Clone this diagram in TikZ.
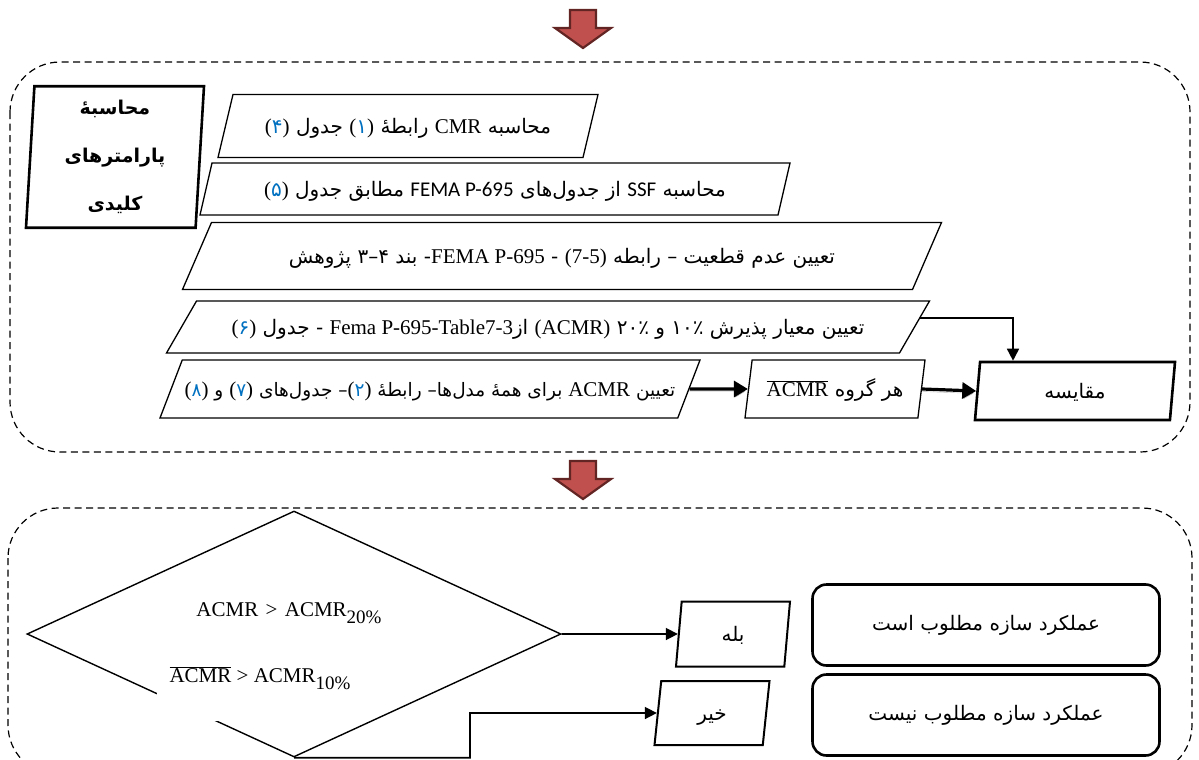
\documentclass[tikz,border=0pt]{standalone}
\usepackage{fontspec}
\setmainfont{Liberation Serif}
\newfontfamily\farsi[Script=Arabic]{DejaVu Sans}
\newfontfamily\enfont{Liberation Serif}
\newfontfamily\calfont{Carlito}
\TeXXeTstate=1
\usetikzlibrary{shapes.geometric}
\usetikzlibrary{arrows.meta}
\usetikzlibrary{positioning}
\usetikzlibrary{calc}
\definecolor{numblue}{RGB}{0,112,192}
\definecolor{arrowfill}{RGB}{192,80,77}
\definecolor{arrowline}{RGB}{99,37,35}

\newcommand{\rtl}[1]{\beginR#1\endR}
\newcommand{\ltr}[1]{\beginL{\enfont\fontsize{21}{24}\selectfont#1}\endL{}}
\newcommand{\bnum}[1]{\beginL{\enfont\fontsize{21}{24}\selectfont(}\textcolor{numblue}{#1}{\enfont\fontsize{21}{24}\selectfont)}\endL{}}
\newcommand{\lowsub}[1]{\raisebox{-7pt}{\fontsize{19}{19}\selectfont#1}}

\tikzset{
  frame/.style={dash pattern=on 7pt off 4.5pt, line width=1.2pt, rounded corners=50pt},
  io/.style={trapezium, draw, fill=white, line width=1.3pt, trapezium stretches body,
    inner xsep=0pt, inner ysep=0pt, font=\farsi\fontsize{20}{24}\selectfont},
  keybox/.style={trapezium, draw, fill=white, line width=2.6pt, trapezium stretches body,
    trapezium left angle=86.6, trapezium right angle=93.4, minimum width=178pt,
    inner xsep=0pt, inner ysep=14pt, align=center,
    font=\farsi\bfseries\fontsize{19}{48}\selectfont},
  result/.style={draw, rounded corners=14pt, line width=2.6pt, minimum width=347pt,
    minimum height=81pt, font=\farsi\fontsize{20}{24}\selectfont},
  arr/.style={line width=1.6pt, -{Triangle[length=12pt,width=12pt]}},
  bigarr/.style={line width=3.2pt, -{Triangle[length=14pt,width=16pt]},
    preaction={draw=gray!55, transform canvas={yshift=-2.5pt}}},
  downarrow/.pic={
    \filldraw[fill=arrowfill, draw=arrowline, line width=2.2pt]
      (-13,-18) -- (13,-18) -- (13,0) -- (28,0) -- (0,20) -- (-28,0) -- (-13,0) -- cycle;
  }
}

\begin{document}
\begin{tikzpicture}[x=1pt,y=-1pt]
\useasboundingbox (0,0) rectangle (1199,760);

% dashed frames and block arrows
\draw[frame] (10,62) rectangle (1190,452);
\draw[frame] (8,508) rectangle (1192,775);
\pic at (583,28) {downarrow};
\pic at (583,479) {downarrow};

% key parameters
\node[keybox] (key) at (115,157) {محاسبهٔ\\پارامترهای\\کلیدی};

\node[io, trapezium left angle=76.6, trapezium right angle=103.4, minimum width=380pt,
  text height=38.5pt, text depth=24.5pt] (cmr) at (408,126)
  {\rtl{محاسبه \ltr{CMR} رابطهٔ \bnum{۱} جدول \bnum{۴}}};
\node[io, trapezium left angle=77, trapezium right angle=103, minimum width=590pt,
  text height=33pt, text depth=19pt] (ssf) at (495,189)
  {\rtl{محاسبه \ltr{\calfont SSF} از جدول^^^^200cهای \ltr{\calfont FEMA P-695} مطابق جدول \bnum{۵}}};
\node[io, trapezium left angle=66.6, trapezium right angle=113.4, minimum width=759pt,
  text height=40.5pt, text depth=26.5pt] (unc) at (562,256)
  {\rtl{تعیین عدم قطعیت – رابطه \ltr{(7-5)} - \ltr{FEMA P-695}- بند ۴–۳ پژوهش}};
\node[io, trapezium left angle=60, trapezium right angle=120, minimum width=763pt,
  text height=33pt, text depth=19pt] (acc) at (548,327)
  {\rtl{تعیین معیار پذیرش ۱۰٪ و ۲۰٪ \ltr{(ACMR)} از\ltr{Fema P-695-Table7-3} - جدول \bnum{۶}}};
\node[io, trapezium left angle=69, trapezium right angle=111, minimum width=540pt,
  text height=36pt, text depth=22pt, font=\farsi\fontsize{18.5}{22}\selectfont] (acmr) at (430,389)
  {\rtl{تعیین \ltr{ACMR} برای همهٔ مدل^^^^200cها– رابطهٔ \bnum{۲}– جدول^^^^200cهای \bnum{۷} و \bnum{۸}}};
\node[io, trapezium left angle=83, trapezium right angle=97, minimum width=180pt,
  text height=36pt, text depth=22pt] (grp) at (835,389)
  {\rtl{هر گروه \ltr{$\overline{\hbox{ACMR}}$}}};
\node[io, line width=2.6pt, trapezium left angle=85, trapezium right angle=95, minimum width=200pt,
  text height=36pt, text depth=22pt] (cmp) at (1075,391) {مقایسه};

\draw[arr] ($(acc.top right corner)!0.33!(acc.bottom right corner)$) -| ([xshift=-62pt]cmp.north);
\draw[bigarr] (acmr.east) -- (grp.west);
\draw[bigarr] (grp.east) -- (cmp.west);

% decision
\node[draw, diamond, line width=1.4pt, minimum width=534pt, minimum height=246pt, inner sep=0pt] (test) at (294,634) {};
\node[font=\fontsize{21}{24}\selectfont] (cond1) at (289,613) {ACMR\hspace{0.35em}>\hspace{0.35em}ACMR\lowsub{20\%}};
\node[fill=white, minimum width=206pt, minimum height=62pt, inner sep=0pt, text depth=30pt,
  font=\fontsize{21}{24}\selectfont] (cond2) at (260,690) {$\overline{\hbox{ACMR}}$ > ACMR\lowsub{10\%}};

\node[io, line width=2pt, trapezium left angle=85, trapezium right angle=95, minimum width=114pt,
  text height=39.5pt, text depth=25.5pt] (yes) at (733,634) {بله};
\node[io, line width=2pt, trapezium left angle=84, trapezium right angle=96, minimum width=115pt,
  text height=39pt, text depth=25pt] (no) at (712,713) {خیر};
\coordinate (kink) at (470,713);
\draw[arr] (test.east) -- (yes.west);
\draw[arr] (test.south) -| (kink) -- (no.west);

\node[result] (good) at (986,625) {\rtl{عملکرد سازه مطلوب است}};
\node[result] (bad) at (986,715) {\rtl{عملکرد سازه مطلوب نیست}};
\end{tikzpicture}
\end{document}
